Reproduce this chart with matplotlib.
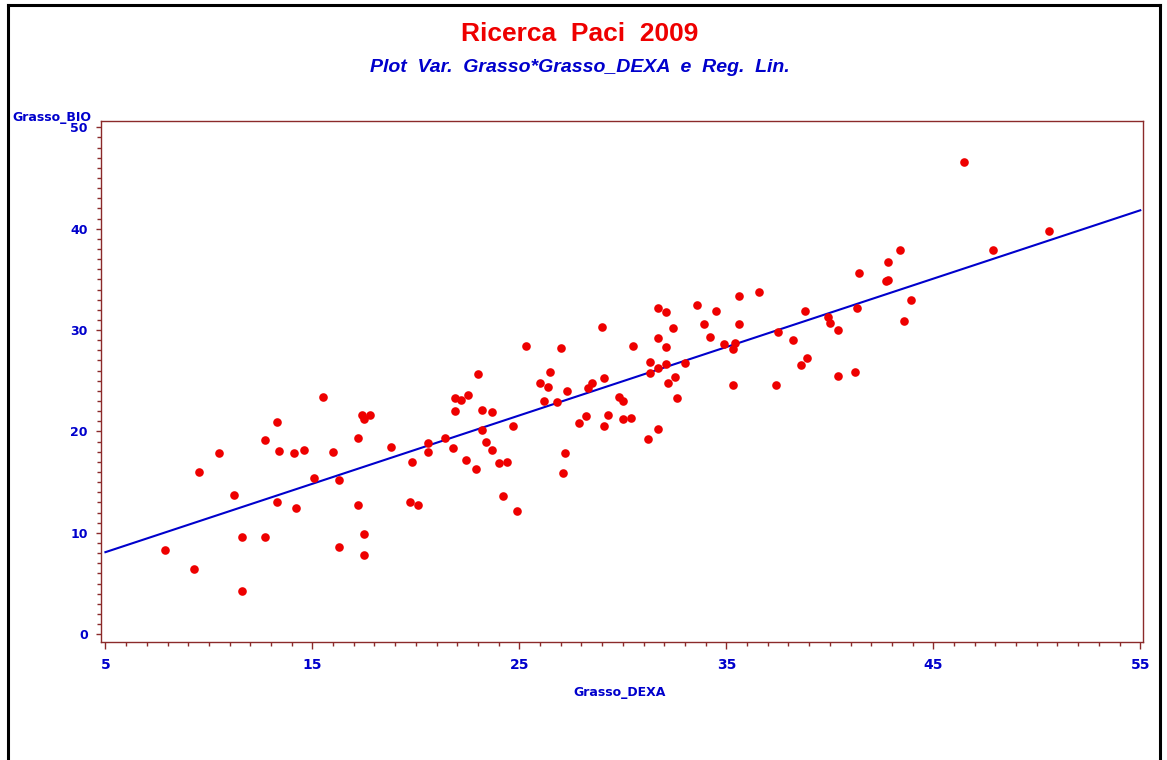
import matplotlib
matplotlib.use("Agg")
import matplotlib.pyplot as plt
from matplotlib.lines import Line2D
from matplotlib.ticker import MultipleLocator
import numpy as np

# Grasso_DEXA (x) vs Grasso_BIO (y), one pair per subject
grasso_dexa = [
    15.5, 17.4, 17.8, 17.5, 13.3, 12.7, 17.2, 10.5, 13.4, 14.1,
    14.6, 16.0, 18.8, 9.5, 15.1, 16.3, 11.2, 13.3, 14.2, 17.2,
    11.6, 12.7, 17.5, 7.9, 16.3, 17.5, 9.3, 11.6,
    29.0, 32.4, 25.3, 27.0, 30.5, 31.7, 32.1, 31.3, 31.7, 32.1,
    31.3, 32.5, 32.2, 32.6, 23.0, 26.5, 26.0, 26.4, 27.3, 28.3,
    28.5, 29.1, 21.9, 22.2, 22.5, 26.2, 26.8, 21.9, 23.2, 23.7,
    29.8, 30.0, 24.7, 23.2, 28.2, 27.9, 29.3, 30.0, 30.4, 29.1,
    31.7, 31.2, 20.6, 20.6, 21.4, 21.8, 19.8, 23.4, 23.7, 22.4,
    22.9, 24.0, 24.4, 27.2, 27.1, 19.7, 20.1, 24.2, 24.9,
    41.4, 42.7, 42.8, 35.6, 36.6, 31.7, 32.1, 33.6, 34.5, 38.8,
    41.3, 33.9, 35.6, 34.2, 34.9, 35.4, 35.3, 37.5, 38.2, 39.9,
    40.0, 40.4, 33.0, 38.9, 38.6, 35.3, 37.4, 40.4, 41.2,
    46.5, 50.6, 47.9, 43.4, 42.8, 43.9, 43.6,
]
grasso_bio = [
    23.4, 21.6, 21.6, 21.2, 20.9, 19.2, 19.4, 17.9, 18.1, 17.9,
    18.2, 18.0, 18.5, 16.0, 15.4, 15.2, 13.7, 13.0, 12.5, 12.7,
    9.6, 9.6, 9.9, 8.3, 8.6, 7.8, 6.4, 4.3,
    30.3, 30.2, 28.4, 28.2, 28.4, 29.2, 28.3, 26.9, 26.3, 26.7,
    25.8, 25.4, 24.8, 23.3, 25.7, 25.9, 24.8, 24.4, 24.0, 24.3,
    24.8, 25.3, 23.3, 23.1, 23.6, 23.0, 22.9, 22.0, 22.1, 21.9,
    23.4, 23.0, 20.5, 20.1, 21.5, 20.8, 21.6, 21.2, 21.3, 20.5,
    20.2, 19.3, 18.9, 18.0, 19.4, 18.4, 17.0, 19.0, 18.2, 17.2,
    16.3, 16.9, 17.0, 17.9, 15.9, 13.0, 12.7, 13.6, 12.2,
    35.6, 34.8, 34.9, 33.4, 33.8, 32.2, 31.8, 32.5, 31.9, 31.9,
    32.2, 30.6, 30.6, 29.3, 28.6, 28.7, 28.1, 29.8, 29.0, 31.3,
    30.7, 30.0, 26.8, 27.2, 26.6, 24.6, 24.6, 25.5, 25.9,
    46.6, 39.8, 37.9, 37.9, 36.7, 33.0, 30.9,
]

x_ticks = [5, 15, 25, 35, 45, 55]
y_ticks = [0, 10, 20, 30, 40, 50]

AXIS_RED = "#8B2A2A"
LABEL_BLUE = "#0000CC"

x = np.array(grasso_dexa)
y = np.array(grasso_bio)

# least squares line over the x axis range
slope, intercept = np.polyfit(x, y, 1)
x_line = np.array([x_ticks[0], x_ticks[-1]])
y_line = intercept + slope * x_line

fig = plt.figure(figsize=(11.67, 7.6), dpi=100)
ax = fig.add_axes([0.0866, 0.1557, 0.8928, 0.6851])

ax.plot(x_line, y_line, color="#0000CC", linewidth=1.5, zorder=2)
ax.plot(x, y, "o", color="#EE0000", markersize=6.2, markeredgewidth=0, zorder=3)

ax.set_xlim(4.79, 55.13)
ax.set_ylim(-0.73, 50.62)
ax.set_xticks(x_ticks)
ax.set_yticks(y_ticks)
ax.xaxis.set_minor_locator(MultipleLocator(1))
ax.yaxis.set_minor_locator(MultipleLocator(1))

for side in ax.spines.values():
    side.set_color(AXIS_RED)
    side.set_linewidth(1.0)

ax.tick_params(which="both", direction="out", color=AXIS_RED, width=1,
               labelcolor=LABEL_BLUE)
ax.tick_params(axis="x", which="major", length=5, pad=7, labelsize=10)
ax.tick_params(axis="x", which="minor", length=3)
ax.tick_params(axis="y", which="major", length=3.5, pad=6, labelsize=9)
ax.tick_params(axis="y", which="minor", length=3)
for lbl in ax.get_xticklabels() + ax.get_yticklabels():
    lbl.set_fontweight("bold")

# titles
fig.text(0.497, 0.955, "Ricerca  Paci  2009", ha="center", va="center",
         color="#EE0000", fontsize=19, fontweight="bold", family="Liberation Sans")
fig.text(0.497, 0.911, "Plot  Var.  Grasso*Grasso_DEXA  e  Reg.  Lin.", ha="center",
         va="center", color=LABEL_BLUE, fontsize=14, fontweight="bold", style="italic",
         family="Liberation Sans")

# axis labels
fig.text(0.0103, 0.846, "Grasso_BIO", ha="left", va="center", color=LABEL_BLUE,
         fontsize=9, fontweight="bold")
fig.text(0.531, 0.089, "Grasso_DEXA", ha="center", va="center", color=LABEL_BLUE,
         fontsize=9, fontweight="bold")

# outer frame
fig.add_artist(Line2D([0.0065, 0.0065], [0.0, 0.993], color="black", linewidth=2.2,
                      transform=fig.transFigure))
fig.add_artist(Line2D([0.0065, 0.9937], [0.993, 0.993], color="black", linewidth=2.2,
                      transform=fig.transFigure))
fig.add_artist(Line2D([0.9937, 0.9937], [0.0, 0.993], color="black", linewidth=2.2,
                      transform=fig.transFigure))

fig.savefig("out.png", dpi=100)
